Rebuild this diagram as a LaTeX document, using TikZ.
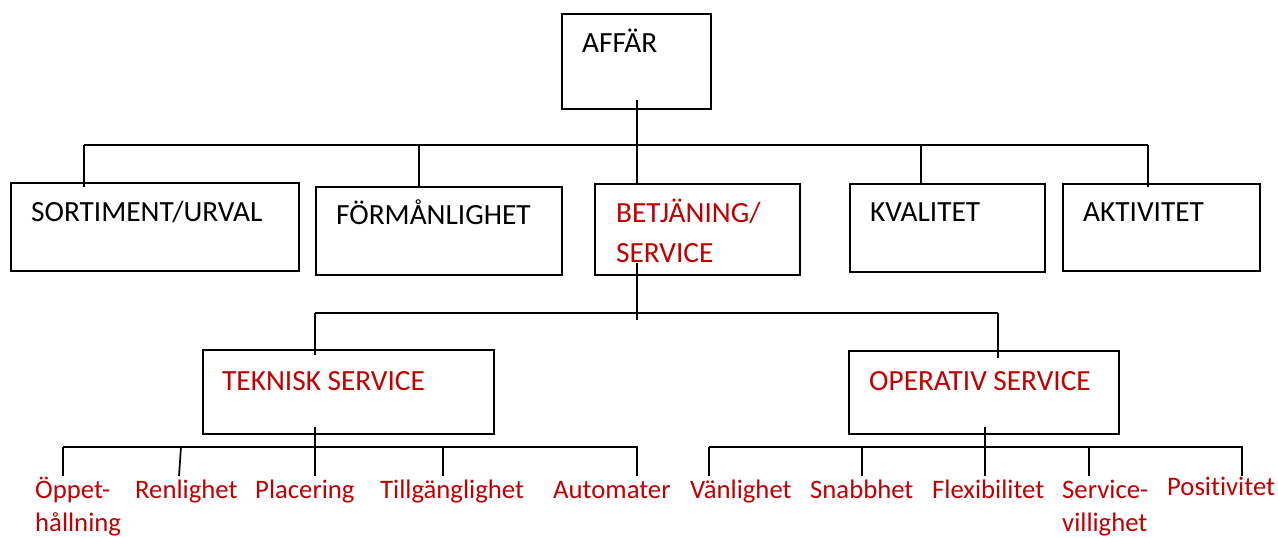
\documentclass[tikz,border=0pt]{standalone}
\usepackage{fontspec}
\setmainfont{Carlito}[Ligatures=NoCommon]
\definecolor{rd}{HTML}{C00000}
\tikzset{
  box/.style={draw, rectangle, inner sep=0pt, anchor=north west, line width=1.8pt},
  btxt/.style={anchor=base west, inner sep=0pt, font=\fontsize{29.3}{40}\selectfont},
  rtxt/.style={btxt, text=rd},
  ltxt/.style={anchor=base west, inner sep=0pt, text=rd, align=left, font=\fontsize{26.7}{33}\selectfont},
  wire/.style={line width=1.7pt}
}
\begin{document}
\begin{tikzpicture}[x=1pt,y=-1pt]
\useasboundingbox (0,0) rectangle (1278,538);
% boxes
\node[box, minimum width=149pt, minimum height=95pt] (affar) at (561,13) {};
\node[box, minimum width=288pt, minimum height=88pt] (sort) at (10,182) {};
\node[box, minimum width=246pt, minimum height=88pt] (form) at (315,186) {};
\node[box, minimum width=205pt, minimum height=91pt] (betj) at (594,183) {};
\node[box, minimum width=195pt, minimum height=88pt] (kval) at (849,183) {};
\node[box, minimum width=197pt, minimum height=87pt] (akt) at (1062,183) {};
\node[box, minimum width=291pt, minimum height=84pt] (tekn) at (202,349) {};
\node[box, minimum width=270pt, minimum height=83pt] (oper) at (848,350) {};
% box texts
\node[btxt] (tAffar) at (582,52) {AFFÄR};
\node[btxt] (tSort) at (31,221) {SORTIMENT/URVAL};
\node[btxt] (tForm) at (336,224) {FÖRMÅNLIGHET};
\node[rtxt] (tBetj1) at (616,222) {BETJÄNING/};
\node[rtxt] (tBetj2) at (616,262) {SERVICE};
\node[btxt] (tKval) at (870,221) {KVALITET};
\node[btxt] (tAkt) at (1083,221) {AKTIVITET};
\node[rtxt] (tTekn) at (222,390) {TEKNISK SERVICE};
\node[rtxt] (tOper) at (869,390) {OPERATIV SERVICE};
% bottom labels
\node[ltxt] (l1) at (35,531) {Öppet-\\hållning};
\node[ltxt] (l2) at (135,498) {Renlighet};
\node[ltxt] (l3) at (255,498) {Placering};
\node[ltxt] (l4) at (380,498) {Tillgänglighet};
\node[ltxt] (l5) at (553,498) {Automater};
\node[ltxt] (l6) at (690,498) {Vänlighet};
\node[ltxt] (l7) at (810,498) {Snabbhet};
\node[ltxt] (l8) at (932,498) {Flexibilitet};
\node[ltxt] (l9) at (1062,531) {Service-\\villighet};
\node[ltxt] (l10) at (1167,495) {Positivitet};
% coordinates
\coordinate (a0) at (637,100);
\coordinate (bus1) at (84,145);
\coordinate (bus2) at (1148,145);
\coordinate (b0) at (637,263);
\coordinate (b1) at (637,320);
\coordinate (m1) at (315,313);
\coordinate (m2) at (998,313);
\coordinate (t0) at (315,427);
\coordinate (tl) at (63,447);
\coordinate (tr) at (637,447);
\coordinate (o0) at (985,427);
\coordinate (ol) at (709,447);
\coordinate (or) at (1242,447);
% top level
\draw[wire] (a0) -- (a0 |- betj.north);
\draw[wire] (bus1) -- (bus2);
\draw[wire] (bus1) -- (84,187);
\draw[wire] (419,145) -- (419,187);
\draw[wire] (921,145) -- (921,184);
\draw[wire] (bus2) -- (1148,187);
% second level
\draw[wire] (b0) -- (b1);
\draw[wire] (m1) -- (m1 |- tekn.north) -- ++(0,6);
\draw[wire] (m1) -- (m2);
\draw[wire] (m2) -- (m2 |- oper.north) -- ++(0,8);
% technical branch
\draw[wire] (t0) -- (315,476);
\draw[wire] (tl) -- (tr) -- (637,476);
\draw[wire] (tl) -- (63,476);
\draw[wire] (181,447) -- (179,476);
\draw[wire] (443,447) -- (443,476);
% operative branch
\draw[wire] (o0) -- (985,476);
\draw[wire] (ol) -- (or) -- (1242,476);
\draw[wire] (ol) -- (709,476);
\draw[wire] (862,447) -- (862,476);
\draw[wire] (1089,447) -- (1089,476);
\end{tikzpicture}
\end{document}
